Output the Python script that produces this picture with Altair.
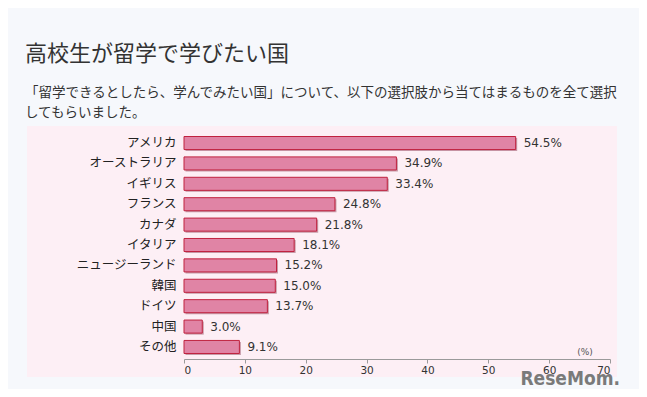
import altair as alt
import pandas as pd

countries = ["アメリカ", "オーストラリア", "イギリス", "フランス", "カナダ", "イタリア",
             "ニュージーランド", "韓国", "ドイツ", "中国", "その他"]
values = [54.5, 34.9, 33.4, 24.8, 21.8, 18.1, 15.2, 15.0, 13.7, 3.0, 9.1]
x_ticks = [0, 10, 20, 30, 40, 50, 60, 70]

title_text = "高校生が留学で学びたい国"
subtitle_lines = ["「留学できるとしたら、学んでみたい国」について、以下の選択肢から当てはまるものを全て選択",
                  "してもらいました。"]

df = pd.DataFrame({"country": countries, "value": values})

FONT = "Noto Sans CJK JP"

y_enc = alt.Y("country:N", sort=countries,
              scale=alt.Scale(paddingInner=0.36, paddingOuter=0.27),
              axis=alt.Axis(title=None, domain=False, ticks=False, labelPadding=8,
                            labelFontSize=12.5, labelColor="#222", labelFont=FONT, zindex=2))
x_enc = alt.X("value:Q", scale=alt.Scale(domain=[0, 70], nice=False),
              axis=alt.Axis(title=None, values=x_ticks, grid=False, domainColor="#9a9a9a",
                            tickColor="#9a9a9a", tickSize=4, labelFontSize=10.5,
                            labelColor="#333", labelFont="DejaVu Sans", labelPadding=2,
                            zindex=2))

base = alt.Chart(df)

panel = base.mark_rect(color="#fdeff5").encode(
    x=alt.value(-157), x2=alt.value(433), y=alt.value(-5), y2=alt.value(246)
).transform_filter("datum.country == 'アメリカ'")

shadow = base.mark_bar(color="#9a5468", opacity=0.55, xOffset=1.5, yOffset=1.5).encode(
    x=x_enc, y=y_enc)

bars = base.mark_bar(color="#e084a5", stroke="#c0223f", strokeWidth=1).encode(
    x=x_enc, y=y_enc)

labels = base.mark_text(align="left", baseline="middle", dx=8, fontSize=12,
                        color="#333", font="DejaVu Sans").transform_calculate(
    label="format(datum.value, '.1f') + '%'"
).encode(x="value:Q", y=alt.Y("country:N", sort=countries), text="label:N")

unit = base.mark_text(align="center", baseline="middle", fontSize=9, color="#555",
                      font="DejaVu Sans").encode(
    x=alt.value(401), y=alt.value(221), text=alt.value("(%)")
).transform_filter("datum.country == 'アメリカ'")

logo = base.mark_text(align="right", baseline="alphabetic", fontSize=19, fontWeight="bold",
                      color="#7a7a7a", font="'DejaVu Sans Condensed', 'Liberation Sans', sans-serif").encode(
    x=alt.value(436), y=alt.value(254), text=alt.value("ReseMom.")
).transform_filter("datum.country == 'アメリカ'")

chart = alt.layer(panel, shadow, bars, labels, unit, logo).properties(
    width=426, height=228,
    autosize=alt.AutoSizeParams(type="none"),
    padding={"left": 176, "top": 123, "right": 29, "bottom": 30},
    background="#f6f8fc",
    title=alt.TitleParams(
        text=title_text, subtitle=subtitle_lines, anchor="start", dx=-159,
        font=FONT, fontSize=22, fontWeight="normal", color="#333",
        subtitleFont=FONT, subtitleFontSize=13.5, subtitleColor="#333",
        subtitlePadding=20, subtitleLineHeight=20, offset=6, frame="group"),
).configure_view(stroke=None)

chart.save("out.html", embed_options={"renderer": "svg", "actions": False})
